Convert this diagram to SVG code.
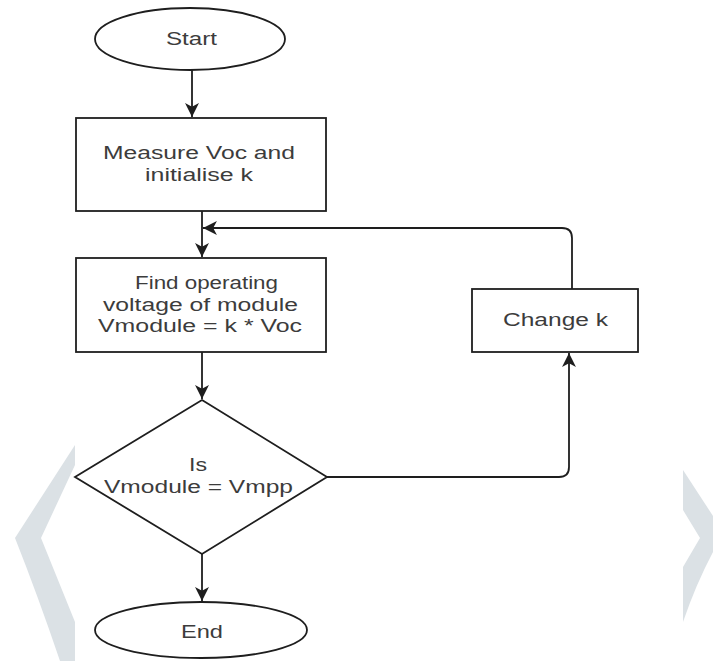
<svg xmlns="http://www.w3.org/2000/svg" width="713" height="661" viewBox="0 0 713 661">
  <style>
    .shape { fill: #ffffff; stroke: #1e1e1e; stroke-width: 1.8; }
    .edge { fill: none; stroke: #1e1e1e; stroke-width: 1.8; }
    .label { font-family: "Liberation Sans", Arial, sans-serif; font-size: 17.5px; fill: #3c3c3c; }
    .mark { fill: #dbe1e5; stroke: none; }
  </style>
  <defs>
    <marker id="arrow" viewBox="0 0 14 14" refX="13" refY="7" markerWidth="15" markerHeight="15" markerUnits="userSpaceOnUse" orient="auto">
      <path d="M0,0.5 L13,7 L0,13.5 L3.5,7 Z" fill="#1e1e1e"/>
    </marker>
  </defs>

  <rect width="713" height="661" fill="#ffffff"/>

  <!-- side chevrons -->
  <path class="mark" d="M75,445 L15,538 Q38,596 60,661 L75,661 L75,622 Q58,580 41,538 L75,465 Z"/>
  <path class="mark" d="M683,470 L713,516 L713,552 Q696,584 683,622 L683,567 L700,538 L683,510 Z"/>

  <!-- connectors -->
  <g id="connectors">
    <path class="edge" d="M192,70 L192,117" marker-end="url(#arrow)"/>
    <path class="edge" d="M202,211 L202,257" marker-end="url(#arrow)"/>
    <path class="edge" d="M202,352 L202,399" marker-end="url(#arrow)"/>
    <path class="edge" d="M202,554 L202,601" marker-end="url(#arrow)"/>
    <path class="edge" d="M327,477 L559,477 Q569,477 569,467 L569,353" marker-end="url(#arrow)"/>
    <path class="edge" d="M572,289 L572,238 Q572,228 562,228 L203,228" marker-end="url(#arrow)"/>
  </g>

  <g id="start">
    <ellipse class="shape" cx="190" cy="39" rx="95" ry="31"/>
    <text class="label" x="166" y="45" textLength="51" lengthAdjust="spacingAndGlyphs">Start</text>
  </g>

  <g id="measure">
    <rect class="shape" x="76" y="118" width="250" height="93"/>
    <text class="label" x="103" y="159" textLength="192" lengthAdjust="spacingAndGlyphs">Measure Voc and</text>
    <text class="label" x="145" y="181" textLength="108" lengthAdjust="spacingAndGlyphs">initialise k</text>
  </g>

  <g id="find">
    <rect class="shape" x="76" y="258" width="250" height="94"/>
    <text class="label" x="135" y="289" textLength="143" lengthAdjust="spacingAndGlyphs">Find operating</text>
    <text class="label" x="103" y="311" textLength="195" lengthAdjust="spacingAndGlyphs">voltage of module</text>
    <text class="label" x="98" y="332" textLength="204" lengthAdjust="spacingAndGlyphs">Vmodule = k * Voc</text>
  </g>

  <g id="change">
    <rect class="shape" x="472" y="289" width="166" height="63"/>
    <text class="label" x="503" y="326" textLength="105" lengthAdjust="spacingAndGlyphs">Change k</text>
  </g>

  <g id="decision">
    <polygon class="shape" points="202,400 327,477 202,554 75,477"/>
    <text class="label" x="189" y="471" textLength="18" lengthAdjust="spacingAndGlyphs">Is</text>
    <text class="label" x="104" y="493" textLength="189" lengthAdjust="spacingAndGlyphs">Vmodule = Vmpp</text>
  </g>

  <g id="end">
    <ellipse class="shape" cx="201" cy="630" rx="106" ry="28"/>
    <text class="label" x="181" y="638" textLength="42" lengthAdjust="spacingAndGlyphs">End</text>
  </g>
</svg>
